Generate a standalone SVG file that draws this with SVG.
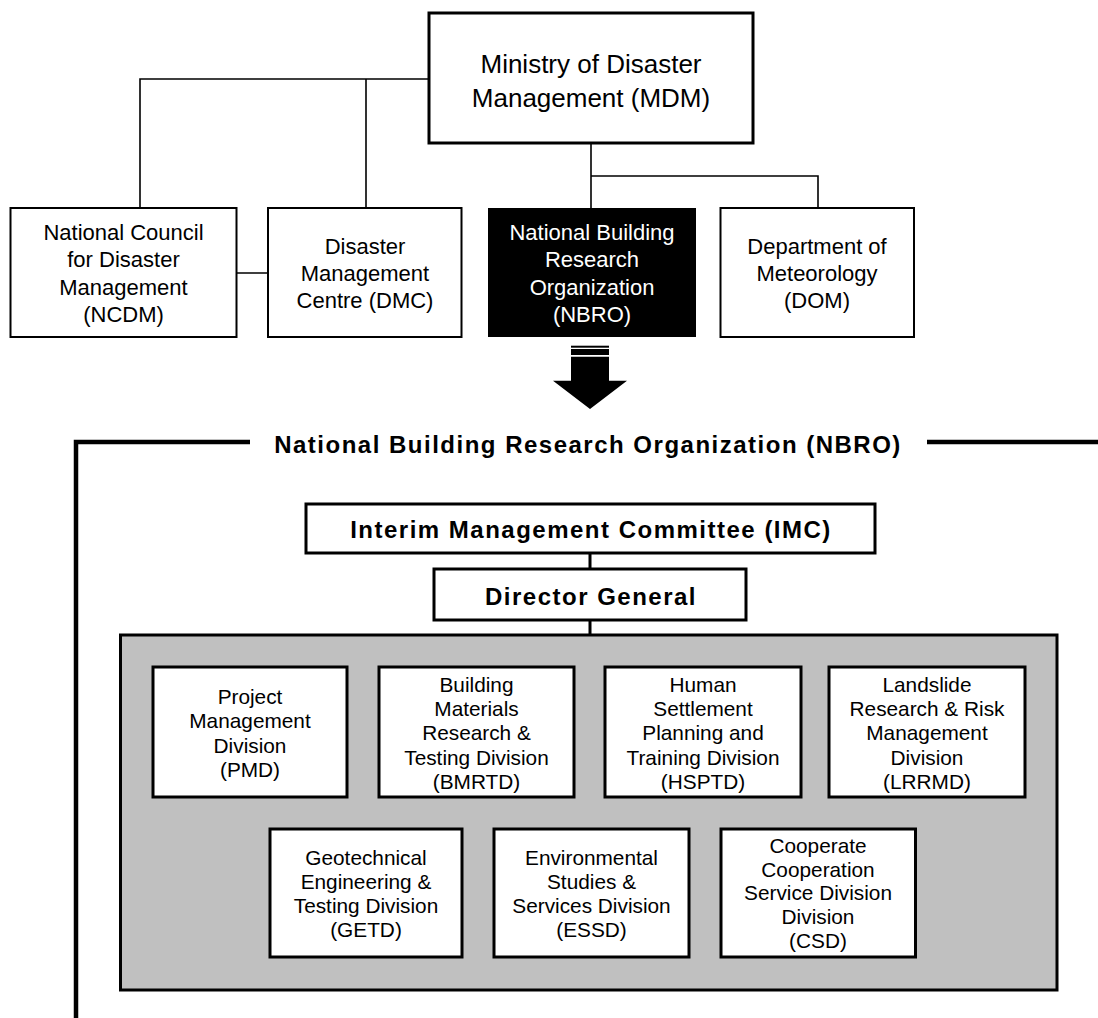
<svg xmlns="http://www.w3.org/2000/svg" width="1098" height="1018" viewBox="0 0 1098 1018">
<style>
text{font-family:"Liberation Sans",Arial,sans-serif;text-anchor:middle;fill:#000}
.top{font-size:22px}
.mdm{font-size:26px}
.div{font-size:20.8px}
.bold{font-size:24px;font-weight:bold;letter-spacing:1.5px}
.wbox{fill:#fff;stroke:#000;stroke-width:2}
.tbox{fill:#fff;stroke:#000;stroke-width:3}
.conn{fill:none;stroke:#000;stroke-width:1.6}
.conn2{fill:none;stroke:#000;stroke-width:3}
.frame{fill:none;stroke:#000;stroke-width:4.5}
</style>
<rect width="1098" height="1018" fill="#fff"/>
<g id="connectors">
<path class="conn" d="M429 79 H140 V208 M366 79 V208 M237 273 H268 M591 143 V208 M591 176 H818 V208"/>
<path class="conn2" d="M590 553 V569 M590 620 V635"/>
<path class="frame" d="M250 442 H76 V1020 M927 442 H1098"/>
<g id="arrow">
<rect x="571" y="345.7" width="38" height="2" fill="#000"/>
<rect x="571" y="349" width="38" height="6" fill="#000"/>
<polygon points="571,356.7 609,356.7 609,380.7 627,380.7 590,409 553,380.7 571,380.7" fill="#000"/>
</g>
</g>
<g id="mdm">
<rect x="429" y="13" width="324" height="130" class="tbox"/>
<text class="mdm" x="591" y="73">Ministry of Disaster</text>
<text class="mdm" x="591" y="107">Management (MDM)</text>
</g>
<g id="ncdm">
<rect x="10.5" y="208" width="226" height="129" class="wbox"/>
<text class="top" x="123.5" y="240">National Council</text>
<text class="top" x="123.5" y="267">for Disaster</text>
<text class="top" x="123.5" y="295">Management</text>
<text class="top" x="123.5" y="322">(NCDM)</text>
</g>
<g id="dmc">
<rect x="268" y="208" width="193.5" height="129" class="wbox"/>
<text class="top" x="365" y="254">Disaster</text>
<text class="top" x="365" y="281">Management</text>
<text class="top" x="365" y="308">Centre (DMC)</text>
</g>
<g id="nbro">
<rect x="488" y="208" width="208" height="129" fill="#000"/>
<text class="top" x="592" y="240" style="fill:#fff">National Building</text>
<text class="top" x="592" y="267" style="fill:#fff">Research</text>
<text class="top" x="592" y="295" style="fill:#fff">Organization</text>
<text class="top" x="592" y="322" style="fill:#fff">(NBRO)</text>
</g>
<g id="dom">
<rect x="720.5" y="208" width="193.5" height="129" class="wbox"/>
<text class="top" x="817" y="254">Department of</text>
<text class="top" x="817" y="281">Meteorology</text>
<text class="top" x="817" y="308">(DOM)</text>
</g>
<g id="nbro-title">
<text class="bold" x="588" y="453">National Building Research Organization (NBRO)</text>
</g>
<g id="imc">
<rect x="306" y="504" width="569" height="49" class="tbox"/>
<text class="bold" x="591" y="538">Interim Management Committee (IMC)</text>
</g>
<g id="dg">
<rect x="434" y="569" width="312" height="51" class="tbox"/>
<text class="bold" x="591" y="605">Director General</text>
</g>
<g id="divisions-panel">
<rect x="120.5" y="635" width="936.5" height="355" fill="#c0c0c0" stroke="#000" stroke-width="3"/>
</g>
<g id="pmd">
<rect x="153" y="667" width="194" height="130" class="tbox"/>
<text class="div" x="250" y="704">Project</text>
<text class="div" x="250" y="728">Management</text>
<text class="div" x="250" y="753">Division</text>
<text class="div" x="250" y="777">(PMD)</text>
</g>
<g id="bmrtd">
<rect x="379" y="667" width="195" height="130" class="tbox"/>
<text class="div" x="476.5" y="692">Building</text>
<text class="div" x="476.5" y="716">Materials</text>
<text class="div" x="476.5" y="740">Research &amp;</text>
<text class="div" x="476.5" y="765">Testing Division</text>
<text class="div" x="476.5" y="789">(BMRTD)</text>
</g>
<g id="hsptd">
<rect x="605" y="667" width="196" height="130" class="tbox"/>
<text class="div" x="703" y="692">Human</text>
<text class="div" x="703" y="716">Settlement</text>
<text class="div" x="703" y="740">Planning and</text>
<text class="div" x="703" y="765">Training Division</text>
<text class="div" x="703" y="789">(HSPTD)</text>
</g>
<g id="lrrmd">
<rect x="829" y="667" width="196" height="130" class="tbox"/>
<text class="div" x="927" y="692">Landslide</text>
<text class="div" x="927" y="716">Research &amp; Risk</text>
<text class="div" x="927" y="740">Management</text>
<text class="div" x="927" y="765">Division</text>
<text class="div" x="927" y="789">(LRRMD)</text>
</g>
<g id="getd">
<rect x="270" y="829" width="192" height="128" class="tbox"/>
<text class="div" x="366" y="865">Geotechnical</text>
<text class="div" x="366" y="889">Engineering &amp;</text>
<text class="div" x="366" y="913">Testing Division</text>
<text class="div" x="366" y="937">(GETD)</text>
</g>
<g id="essd">
<rect x="494" y="829" width="195" height="128" class="tbox"/>
<text class="div" x="591.5" y="865">Environmental</text>
<text class="div" x="591.5" y="889">Studies &amp;</text>
<text class="div" x="591.5" y="913">Services Division</text>
<text class="div" x="591.5" y="937">(ESSD)</text>
</g>
<g id="csd">
<rect x="721" y="829" width="194.5" height="128" class="tbox"/>
<text class="div" x="818" y="853">Cooperate</text>
<text class="div" x="818" y="877">Cooperation</text>
<text class="div" x="818" y="900">Service Division</text>
<text class="div" x="818" y="924">Division</text>
<text class="div" x="818" y="948">(CSD)</text>
</g>
</svg>
